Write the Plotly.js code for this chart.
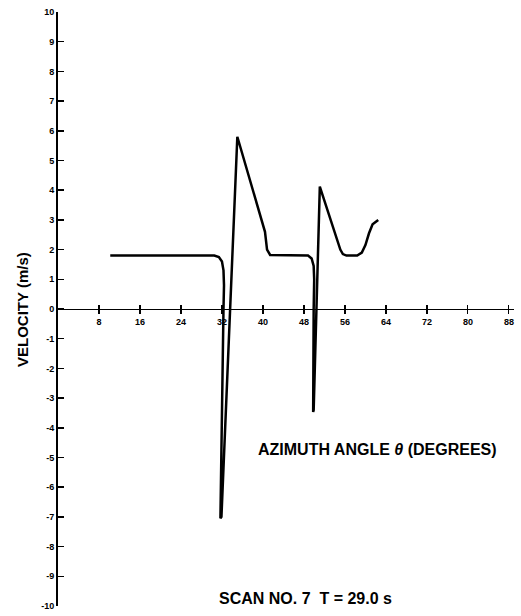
<!DOCTYPE html>
<html>
<head>
<meta charset="utf-8">
<script src="https://cdn.plot.ly/plotly-3.0.1.min.js"></script>
<style>
html,body{margin:0;padding:0;background:#fff;}
#chart{width:521px;height:616px;}
</style>
</head>
<body>
<div id="chart"></div>
<script>
// Azimuth angle (degrees) and velocity (m/s)
const azimuth = [10.2, 20, 30.5, 31.4, 32.0, 32.3, 32.4, 32.3, 31.7, 31.9, 35.0, 40.4, 40.8, 41.4, 45, 48.8, 49.5, 49.9, 50.0, 49.9, 49.8, 49.9, 51.1, 55.1, 55.6, 56.3, 58.4, 59.3, 60.0, 60.7, 61.4, 62.5];
const velocity = [1.8, 1.8, 1.8, 1.75, 1.6, 1.3, 0.8, 0.0, -7.05, -7.0, 5.8, 2.6, 2.0, 1.82, 1.8, 1.8, 1.7, 1.45, 1.0, 0.0, -3.47, -3.4, 4.12, 2.0, 1.85, 1.8, 1.8, 1.9, 2.15, 2.55, 2.85, 3.0];
const xTicks = [8, 16, 24, 32, 40, 48, 56, 64, 72, 80, 88];
const yTicks = [-10,-9,-8,-7,-6,-5,-4,-3,-2,-1,0,1,2,3,4,5,6,7,8,9,10];
const yTitle = "VELOCITY (m/s)";
const xTitle = "AZIMUTH ANGLE <i>θ</i> (DEGREES)";
const caption = "SCAN NO. 7  T = 29.0 s";

const tickFont = {family: "Liberation Sans, Arial, sans-serif", size: 9, color: "#000", weight: "bold"};
const labelFont = {family: "Liberation Sans, Arial, sans-serif", size: 16, color: "#000", weight: "bold"};

const data = [{
  x: azimuth, y: velocity, type: "scatter", mode: "lines",
  line: {color: "#000", width: 2.5}, hoverinfo: "skip", showlegend: false
}];

const layout = {
  width: 521, height: 616,
  margin: {l: 58, r: 7, t: 12, b: 10},
  paper_bgcolor: "#fff", plot_bgcolor: "#fff",
  showlegend: false,
  xaxis: {
    range: [0, 89], anchor: "free", position: 0.5,
    tickvals: xTicks, ticktext: xTicks.map(String),
    ticks: "outside", ticklen: 4, tickwidth: 1.2, tickcolor: "#000",
    showline: true, linecolor: "#000", linewidth: 1.3,
    showgrid: false, zeroline: false, tickfont: tickFont
  },
  xaxis2: {
    range: [0, 89], overlaying: "x", anchor: "free", position: 0.5,
    tickvals: xTicks, ticks: "inside", ticklen: 4, tickwidth: 1.2, tickcolor: "#000",
    showticklabels: false, showline: false, showgrid: false, zeroline: false
  },
  yaxis: {
    range: [-10, 10],
    tickvals: yTicks, ticktext: yTicks.map(String),
    ticks: "inside", ticklen: 6, tickwidth: 1.5, tickcolor: "#000",
    showline: true, linecolor: "#000", linewidth: 2,
    showgrid: false, zeroline: false, tickfont: tickFont
  },
  annotations: [
    {text: yTitle, xref: "paper", yref: "paper", x: -0.079, y: 0.5, xanchor: "center", yanchor: "middle",
     textangle: -90, showarrow: false, font: {family: "Liberation Sans, Arial, sans-serif", size: 15, color: "#000", weight: "bold"}},
    {text: xTitle, xref: "paper", yref: "paper", x: 0.434, y: 0.263, xanchor: "left", yanchor: "middle",
     showarrow: false, font: labelFont},
    {text: caption, xref: "paper", yref: "paper", x: 0.349, y: 0.013, xanchor: "left", yanchor: "middle",
     showarrow: false, font: labelFont}
  ]
};

data.push({x: [0, 89], y: [0, 0], xaxis: "x2", yaxis: "y", mode: "lines", line: {width: 0}, hoverinfo: "skip", showlegend: false});

Plotly.newPlot("chart", data, layout, {displayModeBar: false, staticPlot: true});
</script>
</body>
</html>
